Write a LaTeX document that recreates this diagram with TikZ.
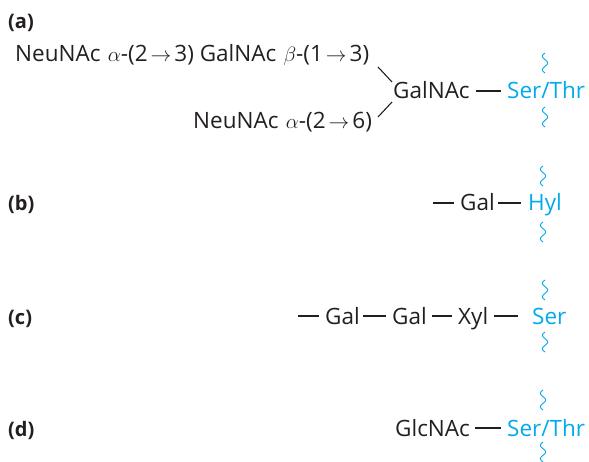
\documentclass[tikz,border=0pt]{standalone}
\usepackage{fontspec}
\setmainfont{Open Sans}
\definecolor{aacyan}{RGB}{0,170,235}
\definecolor{aatext}{RGB}{35,31,32}
\newcommand\arr{\hspace{3pt}$\rightarrow$\hspace{3pt}}
\tikzset{
  txt/.style={anchor=base west,inner sep=0pt,text=aatext,font=\fontsize{22.5}{26}\selectfont},
  aa/.style={anchor=base west,inner sep=0pt,text=aacyan,font=\fontsize{22.5}{26}\selectfont},
  lab/.style={anchor=base west,inner sep=0pt,text=aatext,font=\fontsize{20}{24}\selectfont\bfseries},
  bond/.style={draw=aatext,line width=1.1pt},
  wig/.style={draw=aacyan,line width=0.9pt},
  wiggle/.pic={\draw[wig] plot[domain=0:20,samples=41,smooth] ({-2.6*sin(\x*27)},\x);}
}
\begin{document}
\begin{tikzpicture}[x=1pt,y=-1pt]
\useasboundingbox (0,0) rectangle (589,462);
% labels
\node[lab] (la) at (8,29) {(a)};
\node[lab] (lb) at (8,211) {(b)};
\node[lab] (lc) at (8,324) {(c)};
\node[lab] (ld) at (8,436) {(d)};
% row a
\node[txt] (a1) at (15,62) {NeuNAc\hspace{1.5pt} $\alpha$-(2\arr3) GalNAc\hspace{1.5pt} $\beta$-(1\arr3)};
\node[txt] (a2) at (193,129) {NeuNAc\hspace{1.5pt} $\alpha$-(2\arr6)};
\node[txt] (a3) at (393,99) {GalNAc};
\node[aa] (a4) at (507,99) {Ser/Thr};
\coordinate (a1e) at (378,67);
\coordinate (a2e) at (378,117);
\coordinate (a3u) at (392,82);
\coordinate (a3d) at (392,102);
\draw[bond] (a1e) -- (a3u);
\draw[bond] (a2e) -- (a3d);
\draw[bond] ([shift={(6,-8)}]a3.base east) -- ([shift={(-6,-8)}]a4.base west);
\pic at (545,53) {wiggle};
\pic at (545,107) {wiggle};
% row b
\coordinate (b0) at (433,203);
\node[txt] (b1) at (460,211) {Gal};
\node[aa] (b2) at (528,211) {Hyl};
\draw[bond] (b0) -- ([shift={(-6,-8)}]b1.base west);
\draw[bond] ([shift={(3,-8)}]b1.base east) -- ([shift={(-7,-8)}]b2.base west);
\pic at (543,166) {wiggle};
\pic at (543,222) {wiggle};
% row c
\coordinate (c0) at (298,316);
\node[txt] (c1) at (325,324) {Gal};
\node[txt] (c2) at (392,324) {Gal};
\node[txt] (c3) at (458,324) {Xyl};
\node[aa] (c4) at (532,324) {Ser};
\draw[bond] (c0) -- ([shift={(-6,-8)}]c1.base west);
\draw[bond] ([shift={(3,-8)}]c1.base east) -- ([shift={(-6,-8)}]c2.base west);
\draw[bond] ([shift={(5,-8)}]c2.base east) -- ([shift={(-6,-8)}]c3.base west);
\draw[bond] ([shift={(6,-8)}]c3.base east) -- ([shift={(-14,-8)}]c4.base west);
\pic at (545,280) {wiggle};
\pic at (545,332) {wiggle};
% row d
\node[txt] (d1) at (395,436) {GlcNAc};
\node[aa] (d2) at (507,436) {Ser/Thr};
\draw[bond] ([shift={(5,-8)}]d1.base east) -- ([shift={(-6,-8)}]d2.base west);
\pic at (543,390) {wiggle};
\pic at (543,442) {wiggle};
\end{tikzpicture}
\end{document}
